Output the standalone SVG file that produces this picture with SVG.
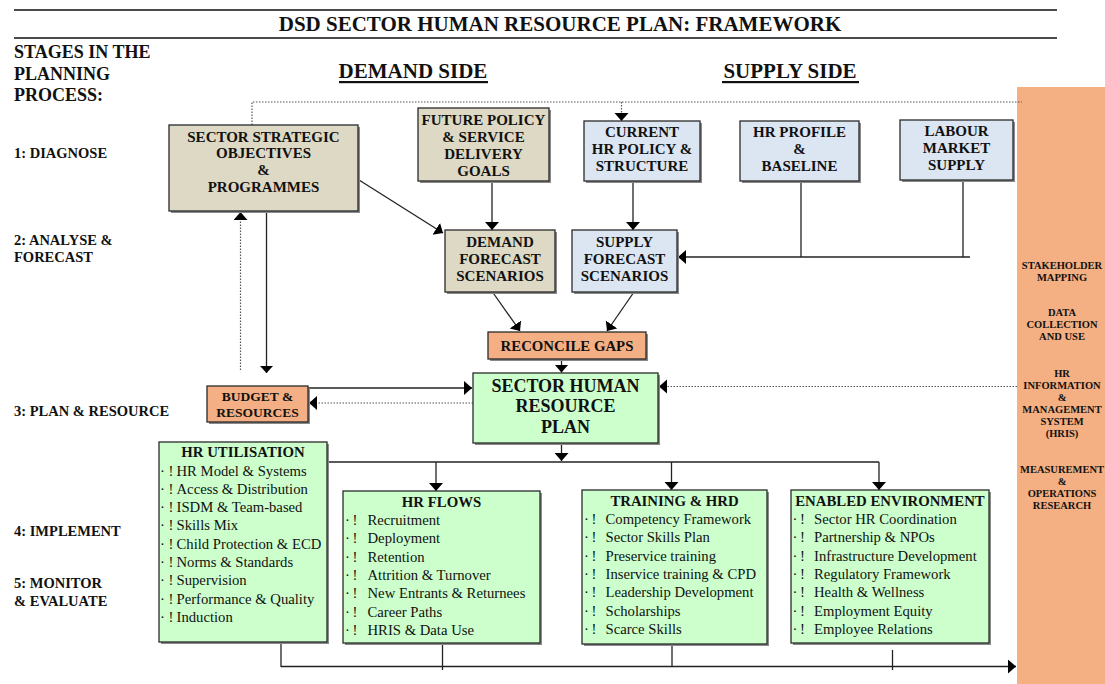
<svg xmlns="http://www.w3.org/2000/svg" width="1105" height="684" viewBox="0 0 1105 684">
<style>
text{font-family:"Liberation Serif","Times New Roman",serif;fill:#111}
.b{font-weight:bold}
.hd{font-size:21px;font-weight:bold}
.sg{font-size:18px;font-weight:bold}
.st{font-size:14.5px;font-weight:bold}
.bx{font-size:15px;font-weight:bold;text-anchor:middle}
.bs{font-size:13.5px;font-weight:bold;text-anchor:middle}
.br{font-size:14.8px;font-weight:bold;text-anchor:middle}
.bl{font-size:18px;font-weight:bold;text-anchor:middle}
.bar{font-size:10.5px;font-weight:bold;text-anchor:middle}
.it{font-size:14.7px}
.ti{font-size:14.8px;font-weight:bold;text-anchor:middle}
.box{stroke:#2a2a2a;stroke-width:1.3}
.sh{fill:#8a8a8a}
.tan{fill:#DDD9C4}
.blue{fill:#DCE6F2}
.green{fill:#CCFFCC}
.org{fill:#F4B084}
.ln{fill:none;stroke:#222;stroke-width:1.3}
.dt{fill:none;stroke:#555;stroke-width:1.2;stroke-dasharray:1.5 1.5}
</style>
<defs>
<marker id="ah" markerUnits="userSpaceOnUse" markerWidth="10" markerHeight="16" refX="8" refY="7" orient="auto" viewBox="0 0 10 16">
<path d="M0,0 L8,7 L0,14 z" fill="#000" stroke="none"/>
</marker>
</defs>

<rect x="1017" y="87" width="88" height="597" fill="#F4AF82"/>

<g id="header">
<line x1="14" y1="10" x2="1057" y2="10" stroke="#111" stroke-width="1.5"/>
<line x1="14" y1="38" x2="1057" y2="38" stroke="#111" stroke-width="1.5"/>
<text x="560" y="31" class="hd" text-anchor="middle">DSD SECTOR HUMAN RESOURCE PLAN: FRAMEWORK</text>
<text x="413" y="78" class="hd" text-anchor="middle">DEMAND SIDE</text>
<rect x="339" y="81" width="149" height="2.2" fill="#111"/>
<text x="790" y="78" class="hd" text-anchor="middle">SUPPLY SIDE</text>
<rect x="722" y="81" width="137" height="2.2" fill="#111"/>
</g>

<g id="stages">
<text class="sg" x="14" y="58">STAGES IN THE</text>
<text class="sg" x="14" y="80">PLANNING</text>
<text class="sg" x="14" y="101">PROCESS:</text>
<text class="st" x="14" y="158">1: DIAGNOSE</text>
<text class="st" x="14" y="245">2: ANALYSE &amp;</text>
<text class="st" x="14" y="262">FORECAST</text>
<text class="st" x="14" y="416">3: PLAN &amp; RESOURCE</text>
<text class="st" x="14" y="536">4: IMPLEMENT</text>
<text class="st" x="14" y="588">5: MONITOR</text>
<text class="st" x="14" y="606">&amp; EVALUATE</text>
</g>

<g id="side-bar">
<text class="bar" x="1062" y="268.5">STAKEHOLDER</text>
<text class="bar" x="1062" y="280.5">MAPPING</text>
<text class="bar" x="1062" y="316">DATA</text>
<text class="bar" x="1062" y="328">COLLECTION</text>
<text class="bar" x="1062" y="340">AND USE</text>
<text class="bar" x="1062" y="376.5">HR</text>
<text class="bar" x="1062" y="388.5">INFORMATION</text>
<text class="bar" x="1062" y="400.5">&amp;</text>
<text class="bar" x="1062" y="412.5">MANAGEMENT</text>
<text class="bar" x="1062" y="424.5">SYSTEM</text>
<text class="bar" x="1062" y="436.5">(HRIS)</text>
<text class="bar" x="1062" y="473">MEASUREMENT</text>
<text class="bar" x="1062" y="485">&amp;</text>
<text class="bar" x="1062" y="497">OPERATIONS</text>
<text class="bar" x="1062" y="509">RESEARCH</text>
</g>

<g id="connectors">
<path class="dt" d="M252,125 V102 H1022"/>
<path class="dt" d="M621.5,102 V121" marker-end="url(#ah)"/>
<path class="ln" d="M359,180 L443,233" marker-end="url(#ah)"/>
<path class="ln" d="M492,181 V230" marker-end="url(#ah)"/>
<path class="ln" d="M633,181 V230" marker-end="url(#ah)"/>
<path class="ln" d="M801,181 V257"/>
<path class="ln" d="M963,180 V257"/>
<path class="ln" d="M970,257 H678" marker-end="url(#ah)"/>
<path class="ln" d="M492.5,292 L520,331" marker-end="url(#ah)"/>
<path class="ln" d="M634,292 L607,331" marker-end="url(#ah)"/>
<path class="ln" d="M561.5,359 V372.5" marker-end="url(#ah)"/>
<path class="ln" d="M266.5,211 V373" stroke-width="1.6"/>
<path d="M260,366 L273,366 L266.5,373 z" fill="#000"/>
<path class="dt" d="M240.5,370 V212" marker-end="url(#ah)"/>
<path class="ln" d="M308,388 H472" marker-end="url(#ah)"/>
<path class="dt" d="M473,403 H309" marker-end="url(#ah)"/>
<path class="dt" d="M1017,386.5 H659" marker-end="url(#ah)"/>
<path class="ln" d="M561.5,443 V461" marker-end="url(#ah)"/>
<path class="ln" d="M327,462 H879"/>
<path class="ln" d="M436,462 V491" marker-end="url(#ah)"/>
<path class="ln" d="M671.5,462 V490" marker-end="url(#ah)"/>
<path class="ln" d="M879,462 V490" marker-end="url(#ah)"/>
<path class="ln" d="M281,642 V667"/>
<path class="ln" d="M442.5,643 V670"/>
<path class="ln" d="M672,644 V667"/>
<path class="ln" d="M892.5,650 V670"/>
<path class="ln" d="M281,666.5 H1016" marker-end="url(#ah)"/>
</g>

<g id="sso">
<rect class="sh" x="171" y="127" width="189" height="86"/>
<rect class="box tan" x="169" y="125" width="189" height="86"/>
<text class="bx" x="263.5" y="141.5">SECTOR STRATEGIC</text>
<text class="bx" x="263.5" y="158">OBJECTIVES</text>
<text class="bx" x="263.5" y="175">&amp;</text>
<text class="bx" x="263.5" y="192">PROGRAMMES</text>
</g>

<g id="future-policy">
<rect class="sh" x="420" y="110" width="131" height="73"/>
<rect class="box tan" x="418" y="108" width="131" height="73"/>
<text class="bx" x="483.5" y="125">FUTURE POLICY</text>
<text class="bx" x="483.5" y="142">&amp; SERVICE</text>
<text class="bx" x="483.5" y="159">DELIVERY</text>
<text class="bx" x="483.5" y="176">GOALS</text>
</g>

<g id="current-hr">
<rect class="sh" x="586" y="123" width="116" height="60"/>
<rect class="box blue" x="584" y="121" width="116" height="60"/>
<text class="bx" x="642" y="137">CURRENT</text>
<text class="bx" x="642" y="154">HR POLICY &amp;</text>
<text class="bx" x="642" y="171">STRUCTURE</text>
</g>

<g id="hr-profile">
<rect class="sh" x="742" y="123" width="119" height="60"/>
<rect class="box blue" x="740" y="121" width="119" height="60"/>
<text class="bx" x="799.5" y="137">HR PROFILE</text>
<text class="bx" x="799.5" y="154">&amp;</text>
<text class="bx" x="799.5" y="171">BASELINE</text>
</g>

<g id="labour-market">
<rect class="sh" x="902" y="122" width="113" height="60"/>
<rect class="box blue" x="900" y="120" width="113" height="60"/>
<text class="bx" x="956.5" y="136">LABOUR</text>
<text class="bx" x="956.5" y="153">MARKET</text>
<text class="bx" x="956.5" y="170">SUPPLY</text>
</g>

<g id="demand-forecast">
<rect class="sh" x="447" y="232" width="110" height="62"/>
<rect class="box tan" x="445" y="230" width="110" height="62"/>
<text class="bx" x="500" y="246.5">DEMAND</text>
<text class="bx" x="500" y="264">FORECAST</text>
<text class="bx" x="500" y="281">SCENARIOS</text>
</g>

<g id="supply-forecast">
<rect class="sh" x="574" y="232" width="105" height="62"/>
<rect class="box blue" x="572" y="230" width="105" height="62"/>
<text class="bx" x="624.5" y="246.5">SUPPLY</text>
<text class="bx" x="624.5" y="264">FORECAST</text>
<text class="bx" x="624.5" y="281">SCENARIOS</text>
</g>

<g id="reconcile">
<rect class="sh" x="490" y="334" width="158" height="27"/>
<rect class="box org" x="488" y="332" width="158" height="27"/>
<text class="br" x="567" y="350.5">RECONCILE GAPS</text>
</g>

<g id="shrp">
<rect class="sh" x="475" y="375" width="185" height="70"/>
<rect class="box green" x="473" y="373" width="185" height="70"/>
<text class="bl" x="565.5" y="392">SECTOR HUMAN</text>
<text class="bl" x="565.5" y="412">RESOURCE</text>
<text class="bl" x="565.5" y="432.5">PLAN</text>
</g>

<g id="budget">
<rect class="sh" x="209" y="388" width="101" height="36"/>
<rect class="box org" x="207" y="386" width="101" height="36"/>
<text class="bs" x="257.5" y="400.5">BUDGET &amp;</text>
<text class="bs" x="257.5" y="416.5">RESOURCES</text>
</g>

<g id="hr-utilisation">
<rect class="sh" x="161" y="444" width="168" height="200"/>
<rect class="box green" x="159" y="442" width="168" height="200"/>
<text class="ti" x="243" y="457">HR UTILISATION</text>
<g class="it">
<text x="160" y="475.5"><tspan>·</tspan><tspan x="168.5">!</tspan><tspan x="176.5">HR Model &amp; Systems</tspan></text>
<text x="160" y="493.8"><tspan>·</tspan><tspan x="168.5">!</tspan><tspan x="176.5">Access &amp; Distribution</tspan></text>
<text x="160" y="512.1"><tspan>·</tspan><tspan x="168.5">!</tspan><tspan x="176.5">ISDM &amp; Team-based</tspan></text>
<text x="160" y="530.4"><tspan>·</tspan><tspan x="168.5">!</tspan><tspan x="176.5">Skills Mix</tspan></text>
<text x="160" y="548.7"><tspan>·</tspan><tspan x="168.5">!</tspan><tspan x="176.5">Child Protection &amp; ECD</tspan></text>
<text x="160" y="567"><tspan>·</tspan><tspan x="168.5">!</tspan><tspan x="176.5">Norms &amp; Standards</tspan></text>
<text x="160" y="585.3"><tspan>·</tspan><tspan x="168.5">!</tspan><tspan x="176.5">Supervision</tspan></text>
<text x="160" y="603.6"><tspan>·</tspan><tspan x="168.5">!</tspan><tspan x="176.5">Performance &amp; Quality</tspan></text>
<text x="160" y="621.9"><tspan>·</tspan><tspan x="168.5">!</tspan><tspan x="176.5">Induction</tspan></text>
</g>
</g>

<g id="hr-flows">
<rect class="sh" x="345" y="493" width="197" height="152"/>
<rect class="box green" x="343" y="491" width="197" height="152"/>
<text class="ti" x="441.5" y="507">HR FLOWS</text>
<g class="it">
<text x="345" y="525"><tspan>·</tspan><tspan x="352.5">!</tspan><tspan x="367.5">Recruitment</tspan></text>
<text x="345" y="543.3"><tspan>·</tspan><tspan x="352.5">!</tspan><tspan x="367.5">Deployment</tspan></text>
<text x="345" y="561.6"><tspan>·</tspan><tspan x="352.5">!</tspan><tspan x="367.5">Retention</tspan></text>
<text x="345" y="580"><tspan>·</tspan><tspan x="352.5">!</tspan><tspan x="367.5">Attrition &amp; Turnover</tspan></text>
<text x="345" y="598.3"><tspan>·</tspan><tspan x="352.5">!</tspan><tspan x="367.5">New Entrants &amp; Returnees</tspan></text>
<text x="345" y="616.6"><tspan>·</tspan><tspan x="352.5">!</tspan><tspan x="367.5">Career Paths</tspan></text>
<text x="345" y="635"><tspan>·</tspan><tspan x="352.5">!</tspan><tspan x="367.5">HRIS &amp; Data Use</tspan></text>
</g>
</g>

<g id="training-hrd">
<rect class="sh" x="584" y="492" width="185" height="154"/>
<rect class="box green" x="582" y="490" width="185" height="154"/>
<text class="ti" x="674.5" y="506">TRAINING &amp; HRD</text>
<g class="it">
<text x="584" y="524"><tspan>·</tspan><tspan x="591.5">!</tspan><tspan x="605.5">Competency Framework</tspan></text>
<text x="584" y="542.3"><tspan>·</tspan><tspan x="591.5">!</tspan><tspan x="605.5">Sector Skills Plan</tspan></text>
<text x="584" y="560.6"><tspan>·</tspan><tspan x="591.5">!</tspan><tspan x="605.5">Preservice training</tspan></text>
<text x="584" y="579"><tspan>·</tspan><tspan x="591.5">!</tspan><tspan x="605.5">Inservice training &amp; CPD</tspan></text>
<text x="584" y="597.3"><tspan>·</tspan><tspan x="591.5">!</tspan><tspan x="605.5">Leadership Development</tspan></text>
<text x="584" y="615.6"><tspan>·</tspan><tspan x="591.5">!</tspan><tspan x="605.5">Scholarships</tspan></text>
<text x="584" y="634"><tspan>·</tspan><tspan x="591.5">!</tspan><tspan x="605.5">Scarce Skills</tspan></text>
</g>
</g>

<g id="enabled-environment">
<rect class="sh" x="793" y="492" width="198" height="153"/>
<rect class="box green" x="791" y="490" width="198" height="153"/>
<text class="ti" x="890" y="506">ENABLED ENVIRONMENT</text>
<g class="it">
<text x="792.5" y="524"><tspan>·</tspan><tspan x="800">!</tspan><tspan x="814">Sector HR Coordination</tspan></text>
<text x="792.5" y="542.3"><tspan>·</tspan><tspan x="800">!</tspan><tspan x="814">Partnership &amp; NPOs</tspan></text>
<text x="792.5" y="560.6"><tspan>·</tspan><tspan x="800">!</tspan><tspan x="814">Infrastructure Development</tspan></text>
<text x="792.5" y="579"><tspan>·</tspan><tspan x="800">!</tspan><tspan x="814">Regulatory Framework</tspan></text>
<text x="792.5" y="597.3"><tspan>·</tspan><tspan x="800">!</tspan><tspan x="814">Health &amp; Wellness</tspan></text>
<text x="792.5" y="615.6"><tspan>·</tspan><tspan x="800">!</tspan><tspan x="814">Employment Equity</tspan></text>
<text x="792.5" y="634"><tspan>·</tspan><tspan x="800">!</tspan><tspan x="814">Employee Relations</tspan></text>
</g>
</g>
</svg>
